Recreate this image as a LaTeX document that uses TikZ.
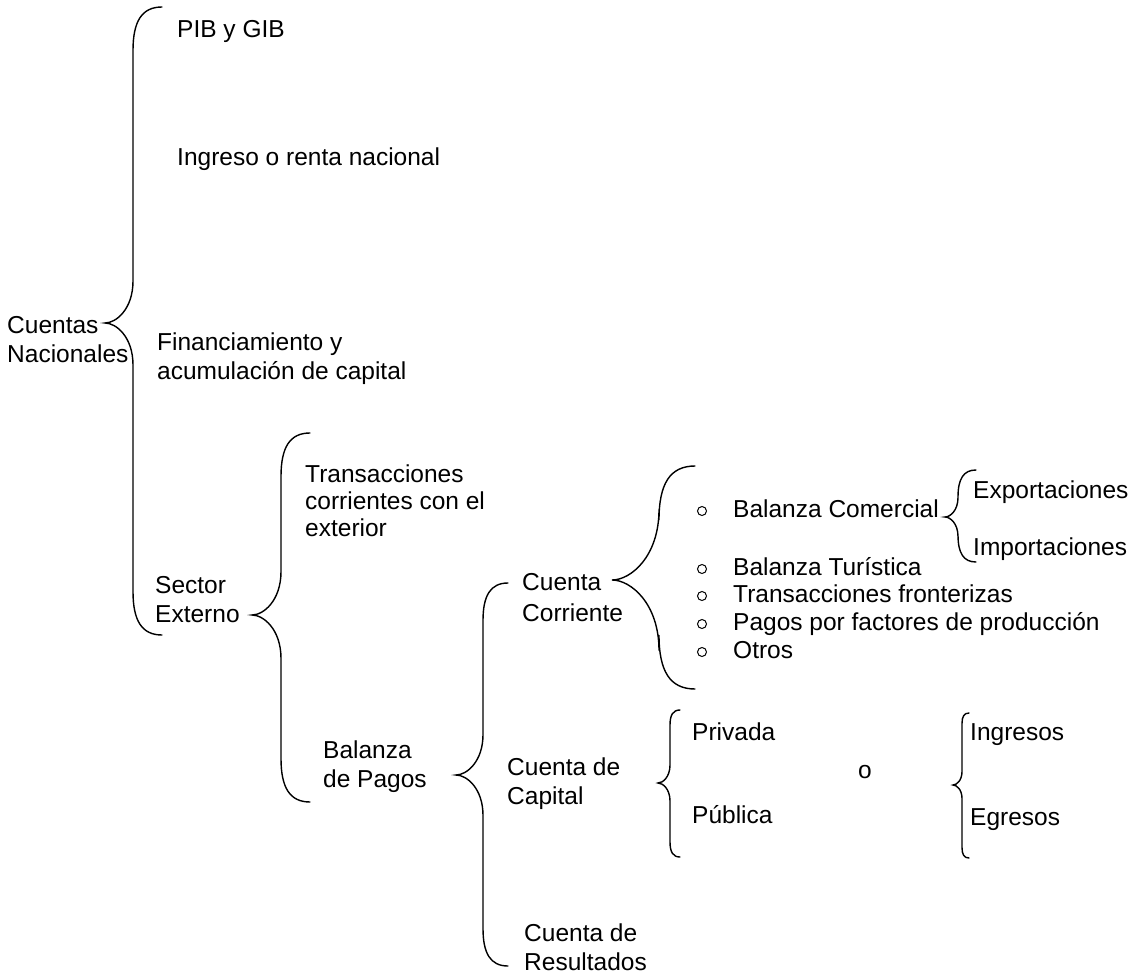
\documentclass[tikz,border=0pt]{standalone}
\usepackage{fontspec}
\setmainfont{Liberation Sans}
\newcommand{\fs}{\fontsize{24.5}{29}\selectfont}
% curly brace: end x, line x, tip x, top y, tip y, bottom y
\newcommand{\llave}[6]{%
  \draw[curly] (#1,#4) .. controls ({#2+0.3*(#1-#2)},#4) and (#2,{#4+0.5*(#1-#2)}) .. (#2,{#4+1.5*(#1-#2)})
    -- (#2,{#5-1.5*(#2-#3)}) .. controls (#2,{#5-0.5*(#2-#3)}) and ({#3+0.4*(#2-#3)},#5) .. (#3,#5)
    .. controls ({#3+0.4*(#2-#3)},#5) and (#2,{#5+0.5*(#2-#3)}) .. (#2,{#5+1.5*(#2-#3)})
    -- (#2,{#6-1.5*(#1-#2)}) .. controls (#2,{#6-0.5*(#1-#2)}) and ({#2+0.3*(#1-#2)},#6) .. (#1,#6);
}
\begin{document}
\begin{tikzpicture}[x=1pt,y=-1pt,
  curly/.style={line width=1.4pt,line cap=round},
  txt/.style={anchor=base west,inner sep=0pt,align=left,font=\fs},
  bullet/.style={line width=1pt}]
\useasboundingbox (0,0) rectangle (1139,973);
\def\bx{702}
\def\lx{733}

% multi-line nodes sit on the baseline of their last line
\node[txt] (cn) at (7,362) {Cuentas\\Nacionales};
\node[txt] (pib) at (177,38) {PIB y GIB};
\node[txt] (ing) at (177,166) {Ingreso o renta nacional};
\node[txt] (fin) at (157,379) {Financiamiento y\\acumulación de capital};
\node[txt] (se) at (155,622) {Sector\\Externo};
\node[txt] (tce) at (305,536) {Transacciones\\[-2pt]corrientes con el\\[-2pt]exterior};
\node[txt] (bp) at (323,787) {Balanza\\de Pagos};
\node[txt] (cc) at (522,621) {Cuenta\\[2pt]Corriente};
\node[txt] (ck) at (507,804) {Cuenta de\\Capital};
\node[txt] (cr) at (524,970) {Cuenta de\\Resultados};

% lista de la cuenta corriente
\foreach \yb/\nm/\lbl in {517/bc/Balanza Comercial, 575/bt/Balanza Turística,
    602/tf/Transacciones fronterizas, 630/pf/Pagos por factores de producción, 658/ot/Otros}{
  \draw[bullet] (\bx,\yb-6) circle (4.5pt);
  \node[txt] (\nm) at (\lx,\yb) {\lbl};
}
\node[txt] (exp) at (973,498) {Exportaciones};
\node[txt] (imp) at (973,555) {Importaciones};
\node[txt] (priv) at (692,740) {Privada};
\node[txt] (pub) at (692,823) {Pública};
\node[txt] (o) at (858,778) {o};
\node[txt] (ingr) at (970,740) {Ingresos};
\node[txt] (egr) at (970,825) {Egresos};

% llaves
\llave{162}{133}{105}{7}{323}{635}
\llave{310}{281}{252}{433}{615}{802}
\llave{508}{483}{456}{583}{775}{966}
\llave{695}{659}{612}{466}{580}{689}
\llave{976}{958}{945}{470}{517}{562}
\llave{680}{670}{658}{710}{783}{857}
\llave{969}{962}{953}{713}{785}{858}
\end{tikzpicture}
\end{document}
